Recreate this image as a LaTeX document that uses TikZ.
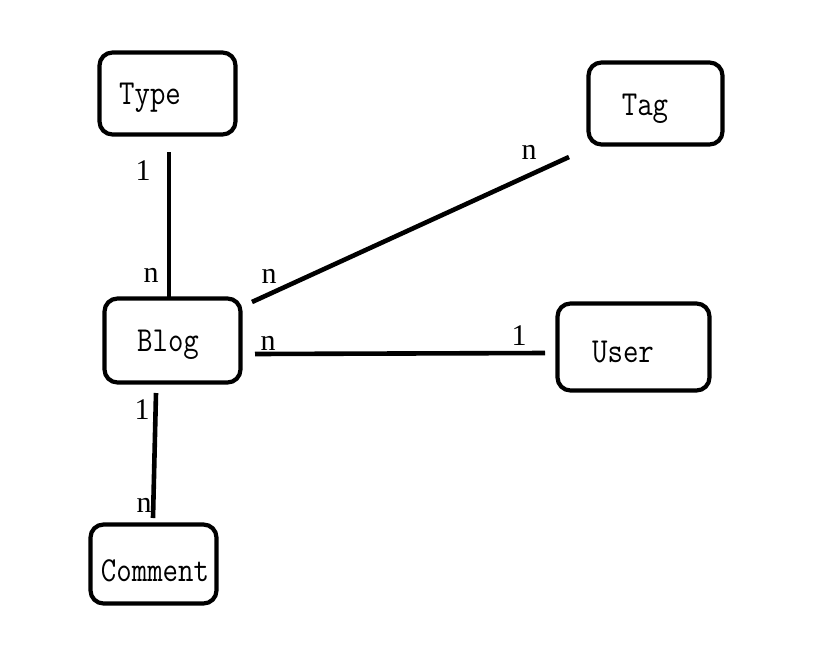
\documentclass[tikz,border=0pt]{standalone}
\usepackage{fontspec}
\newfontfamily\lblfont{Liberation Serif}
\newcommand{\etxt}[1]{\scalebox{1}[1.17]{#1}}
\begin{document}
\begin{tikzpicture}[x=1pt,y=-1pt,
  ent/.style={draw=black,line width=4.2pt,rounded corners=13pt,inner sep=0pt},
  etext/.style={font=\ttfamily\fontsize{30}{30}\selectfont,inner sep=0pt},
  conn/.style={line width=4.6pt},
  card/.style={font=\lblfont\fontsize{30}{30}\selectfont,inner sep=0pt}]
\useasboundingbox (0,0) rectangle (833,659);
\fill[white] (0,0) rectangle (833,659);
% entities
\node[ent,minimum width=136pt,minimum height=82pt] (type) at (167.5,93.5) {};
\node[etext] (typet) at (150,98) {\etxt{Type}};
\node[ent,minimum width=134pt,minimum height=82pt] (tag) at (655.5,103.5) {};
\node[etext] (tagt) at (645,109) {\etxt{Tag}};
\node[ent,minimum width=136pt,minimum height=84pt] (blog) at (172.5,340.5) {};
\node[etext] (blogt) at (168,345) {\etxt{Blog}};
\node[ent,minimum width=152pt,minimum height=87pt] (user) at (633.5,347) {};
\node[etext] (usert) at (623,352) {\etxt{User}};
\node[ent,minimum width=126pt,minimum height=79pt] (comment) at (153.5,564) {};
\node[etext] (commentt) at (155,571) {\etxt{Comment}};
% connector ends
\coordinate (tb1) at (169,152);
\coordinate (tb2) at (169,297);
\coordinate (gb1) at (252,302);
\coordinate (gb2) at (569,157);
\coordinate (ub1) at (255,354);
\coordinate (ub2) at (545,353);
\coordinate (cb1) at (156,393);
\coordinate (cb2) at (153,518);
\draw[conn] (tb1) -- (tb2);
\draw[conn] (gb1) -- (gb2);
\draw[conn] (ub1) -- (ub2);
\draw[conn] (cb1) -- (cb2);
% cardinalities
\node[card] (c1) at (143,171) {1};
\node[card] (c2) at (151,275) {n};
\node[card] (c3) at (269,276) {n};
\node[card] (c4) at (529,152) {n};
\node[card] (c5) at (268,343) {n};
\node[card] (c6) at (519,336) {1};
\node[card] (c7) at (142,410) {1};
\node[card] (c8) at (144,505) {n};
\end{tikzpicture}
\end{document}
